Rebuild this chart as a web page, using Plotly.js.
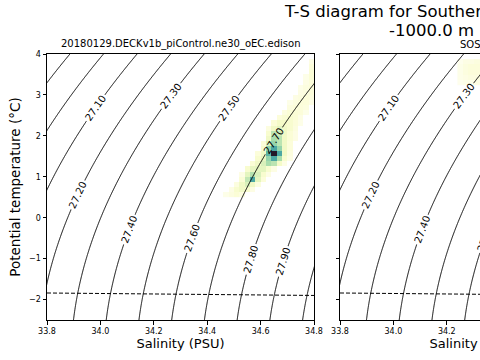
<!DOCTYPE html>
<html><head><meta charset="utf-8">
<script src="https://cdn.plot.ly/plotly-3.0.1.min.js"></script>
<style>html,body{margin:0;padding:0;overflow:hidden;background:#fff}#plot{width:620px;height:360px}</style>
</head><body><div id="plot"></div>
<script>
// ---------------- data ----------------
const salinityTicks = [33.8, 34.0, 34.2, 34.4, 34.6, 34.8];
const temperatureTicks = [-2, -1, 0, 1, 2, 3, 4];
const densityLevelStart = 26.5, densityLevelEnd = 28.5, densityLevelStep = 0.1;
const freezeSalinity = [33.8, 34.8];
const freezeTemperature = [-1.84, -1.90];

// model volume histogram (log-volume level per bin), bins 0.02 PSU x 0.125 degC
const modelSalinityBins = [34.45,34.47,34.49,34.51,34.53,34.55,34.57,34.59,34.61,34.63,34.65,34.67,34.69,34.71,34.73,34.75,34.77,34.79];
const modelRowTemperature = [0.5625,0.6875,0.8125,0.9375,1.0625,1.1875,1.3125,1.4375,1.5625,1.6875,1.8125,1.9375,2.0625,2.1875,2.3125,2.4375,2.5625,2.6875,2.8125,2.9375,3.0625,3.1875,3.3125,3.4375,3.5625,3.6875,3.8125];
const modelRowFirstBin = [1,2,3,4,4,5,6,7,7,8,8,9,9,9,10,11,12,13,13,14,15,15,16,16,17,17,17];
const modelRowLevels = [
  [0.2,0.4,0.6,0.4],
  [0.3,0.8,1.2,0.8,0.3],
  [0.4,1.2,2.2,1.2,0.4],
  [0.6,2.8,6,1.8,0.5],
  [0.3,1.8,3.2,2.2,0.8,0.3],
  [0.8,1.6,1.8,1.8,0.8,0.3],
  [0.6,1.2,2.2,3.5,3,1,0.3],
  [0.8,1.6,4,6,3.5,0.8,0.3],
  [0.5,1.2,5.5,10,6,1.2,0.4],
  [0.8,4,6,4,1.2,0.5],
  [0.5,2.2,4,3,1.2,0.5],
  [1.2,3.5,3,1.2,0.6,0.3],
  [0.8,3,2.5,1.2,0.6,0.3],
  [0.4,1.2,1.8,1.2,0.8,0.4],
  [0.6,1,1,0.8,0.5,0.2],
  [0.5,0.7,0.8,0.6,0.3],
  [0.4,0.6,0.6,0.5,0.2],
  [0.4,0.5,0.5,0.4],
  [0.2,0.4,0.5,0.5,0.3],
  [0.3,0.4,0.5,0.4],
  [0.3,0.4,0.5],
  [0.2,0.4,0.5],
  [0.3,0.5],
  [0.2,0.6],
  [0.6],
  [0.5],
  [0.3]
];

// SOSE volume histogram (visible part only)
const soseSalinityBins = [34.25,34.27,34.29,34.31,34.33];
const soseRowTemperature = [3.3125,3.4375,3.5625,3.6875,3.8125];
const soseRowFirstBin = [0,0,0,0,0];
const soseRowLevels = [
  [0.1,0.2,0.2,0.3,0.3],
  [0.2,0.3,0.4,0.4,0.4],
  [0.2,0.4,0.5,0.5,0.5],
  [0.2,0.4,0.5,0.5,0.5],
  [0.1,0.3,0.3,0.4,0.4]
];

const modelTitle = '20180129.DECKv1b_piControl.ne30_oEC.edison';
const obsTitle = 'SOSE';

// ---------------- helpers ----------------
function buildGrid(nCols, firstBins, levels){
  return levels.map((row, r) => {
    const out = new Array(nCols).fill(null);
    row.forEach((v, i) => { out[firstBins[r] + i] = v; });
    return out;
  });
}
// UNESCO EOS-80 potential density anomaly at p = 0
function sigma0(S, T){
  const rw = 999.842594 + 6.793952e-2*T - 9.095290e-3*T*T + 1.001685e-4*T**3 - 1.120083e-6*T**4 + 6.536332e-9*T**5;
  const A = 0.824493 - 4.0899e-3*T + 7.6438e-5*T*T - 8.2467e-7*T**3 + 5.3875e-9*T**4;
  const B = -5.72466e-3 + 1.0227e-4*T - 1.6546e-6*T*T;
  const C = 4.8314e-4;
  return rw + A*S + B*Math.pow(S,1.5) + C*S*S - 1000;
}
const sGrid = [], tGrid = [];
for (let i = 0; i <= 130; i++) sGrid.push(33.7 + i*0.01);
for (let j = 0; j <= 140; j++) tGrid.push(-2.7 + j*0.05);
const sigmaGrid = tGrid.map(t => sGrid.map(s => sigma0(s, t)));

const deep = [
  [0, '#fefef2'], [0.05, '#fcfdda'], [0.1, '#f5fbc8'], [0.2, '#e0f3bd'], [0.35, '#a9ddac'],
  [0.5, '#6dc3a9'], [0.6, '#4ba7a3'], [0.7, '#3f8ca0'],
  [0.8, '#3e6c97'], [0.9, '#3d4576'], [1, '#231728']
];

function heat(x, y, z, xa, ya){
  return {type:'heatmap', x:x, y:y, z:z, xaxis:xa, yaxis:ya, colorscale:deep,
    zmin:0, zmax:10, showscale:false, hoverinfo:'skip', zsmooth:false};
}
function cont(xa, ya){
  return {type:'contour', x:sGrid, y:tGrid, z:sigmaGrid, xaxis:xa, yaxis:ya,
    autocontour:false,
    contours:{coloring:'none', start:densityLevelStart, end:densityLevelEnd, size:densityLevelStep,
      showlabels:true, labelformat:'.2f', labelfont:{size:10, color:'black', family:'DejaVu Sans'}},
    line:{color:'black', width:1, smoothing:0}, showscale:false, hoverinfo:'skip'};
}
function freeze(xa, ya){
  return {type:'scatter', mode:'lines', x:freezeSalinity, y:freezeTemperature, xaxis:xa, yaxis:ya,
    line:{color:'black', width:1, dash:'4px,2px'}, hoverinfo:'skip'};
}

const traces = [
  heat(modelSalinityBins, modelRowTemperature, buildGrid(modelSalinityBins.length, modelRowFirstBin, modelRowLevels), 'x', 'y'),
  cont('x', 'y'),
  freeze('x', 'y'),
  heat(soseSalinityBins, soseRowTemperature, buildGrid(soseSalinityBins.length, soseRowFirstBin, soseRowLevels), 'x2', 'y2'),
  cont('x2', 'y2'),
  freeze('x2', 'y2')
];

const axisCommon = {showline:true, mirror:true, linecolor:'black', linewidth:1, ticks:'outside',
  ticklen:3.5, tickwidth:1, tickcolor:'black', showgrid:false, zeroline:false, tickfont:{size:8}};

const W = 620, H = 360, L = 47, R = 13, T = 54, B = 40;
const pw = W - L - R;
const px = p => (p - L) / pw;
const py = p => (H - B - p) / (H - T - B);

const layout = {
  width:W, height:H, margin:{l:L, r:R, t:T, b:B},
  paper_bgcolor:'white', plot_bgcolor:'white', showlegend:false,
  font:{family:'DejaVu Sans', color:'black'},
  xaxis:Object.assign({}, axisCommon, {domain:[0, 267/pw], anchor:'y', range:[33.8, 34.8],
    tickvals:salinityTicks, tickformat:'.1f', title:{text:'Salinity (PSU)', font:{size:13}, standoff:3}}),
  yaxis:Object.assign({}, axisCommon, {domain:[0,1], anchor:'x', range:[-2.5, 4],
    tickvals:temperatureTicks, title:{text:'Potential temperature (°C)', font:{size:13.5}, standoff:5}}),
  xaxis2:Object.assign({}, axisCommon, {domain:[293/pw, 1], anchor:'y2', range:[33.8, 34.8],
    tickvals:salinityTicks, tickformat:'.1f', title:{text:'Salinity (PSU)', font:{size:13}, standoff:3}}),
  yaxis2:Object.assign({}, axisCommon, {domain:[0,1], anchor:'x2', range:[-2.5, 4],
    tickvals:temperatureTicks, showticklabels:false}),
  annotations:[
    {text:'T-S diagram for Southern', xref:'paper', yref:'paper', x:px(282), y:py(12), xanchor:'left', yanchor:'middle',
      showarrow:false, font:{size:16.5}},
    {text:'-1000.0 m', xref:'paper', yref:'paper', x:px(387), y:py(30), xanchor:'left', yanchor:'middle',
      showarrow:false, font:{size:16.5}},
    {text:modelTitle, xref:'paper', yref:'paper', x:px(180.5), y:1, xanchor:'center', yanchor:'bottom', yshift:2,
      showarrow:false, font:{size:10}},
    {text:obsTitle, xref:'paper', yref:'paper', x:px(473.5), y:1, xanchor:'center', yanchor:'bottom', yshift:2,
      showarrow:false, font:{size:10}}
  ]
};

Plotly.newPlot('plot', traces, layout, {staticPlot:true, displayModeBar:false});
</script>
</body></html>
